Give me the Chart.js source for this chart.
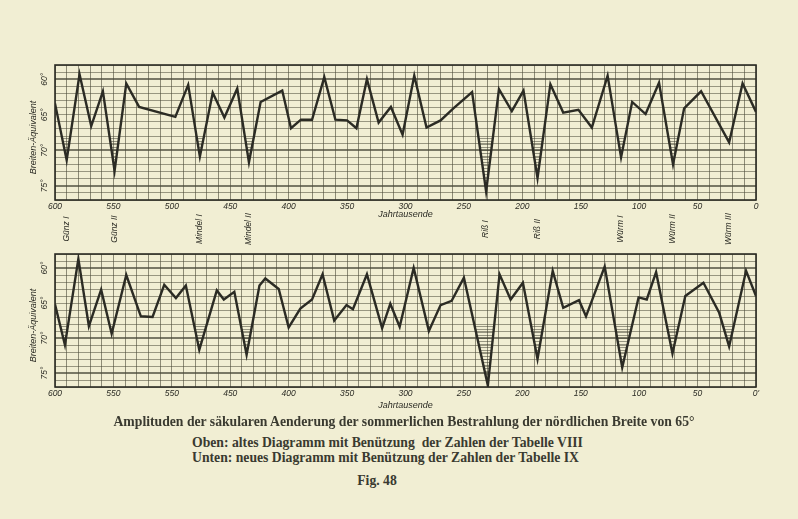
<!DOCTYPE html>
<html>
<head>
<meta charset="utf-8">
<script src="https://cdn.jsdelivr.net/npm/chart.js@4.4.1/dist/chart.umd.min.js"></script>
<style>
  body{
    margin:0;
    width:798px;
    height:519px;
    overflow:hidden;
    position:relative;
    background:#f1eed3;
    color:#3a3a30;
    font-family:"Liberation Serif","DejaVu Serif",serif;
  }
  canvas{ position:absolute; left:0; }
  #topChart{ top:0; }
  #bottomChart{ top:245px; }
  .line{ position:absolute; white-space:nowrap; font-size:13.7px; font-weight:bold; line-height:16px; }
  #cap1{ top:414px; left:0; width:808px; text-align:center; }
  #cap2{ top:435px; left:192px; }
  #cap3{ top:450px; left:192px; }
  #cap4{ top:473px; left:0; width:754px; text-align:center; }
</style>
</head>
<body>
<canvas id="topChart" width="798" height="250"></canvas>
<canvas id="bottomChart" width="798" height="175"></canvas>

<div class="line" id="cap1">Amplituden der säkularen Aenderung der sommerlichen Bestrahlung der nördlichen Breite von 65°</div>
<div class="line" id="cap2">Oben: altes Diagramm mit Benützung&nbsp; der Zahlen der Tabelle VIII</div>
<div class="line" id="cap3">Unten: neues Diagramm mit Benützung der Zahlen der Tabelle IX</div>
<div class="line" id="cap4">Fig. 48</div>

<script>
// Jahrtausende vor heute, Breiten-Äquivalent in Grad
const topYears = [600,590,579,569,559,549,539,528,497,486,476,465,455,444,434,424,405.5,398,389.5,380,369.5,360,350,342,333,323,312.5,302.5,292.5,282,270,259,243,231,220,209,199,187,176,165,152,140.5,127,115.5,106,94.5,83,71,61.5,47,23,11.5,0];
const topValues = [63.4,71.4,59.3,66.6,61.7,72.9,60.6,63.9,65.3,60.8,70.9,61.9,65.4,61.3,71.7,63.2,61.6,66.9,65.7,65.7,59.7,65.7,65.8,66.9,60.0,66.1,63.9,67.8,59.5,66.8,65.8,64.1,61.8,75.8,61.4,64.5,61.6,73.9,60.7,64.7,64.3,66.8,59.5,71.0,63.2,64.9,60.5,72.0,64.1,61.7,68.9,60.6,64.6];

const bottomYears = [600,591.5,580,571,560.5,551.5,539,526.5,516.5,506.5,496.5,488,476.5,461.5,455.5,446.5,436,425,420,408.5,400,390,380,371,361,350.5,345,333,320,313,305,293,280,270,260.5,250,229.5,219.5,210,199.5,187,174,165,151.5,145.5,129.5,114.5,100.5,93.5,85.5,71.5,60.5,45,31.5,23,8.5,0];
const bottomValues = [65.2,71.0,58.7,68.3,63.1,69.4,61.0,66.9,67.0,62.4,64.3,62.5,71.7,63.2,64.5,63.4,72.4,62.5,61.5,63.0,68.5,65.8,64.5,60.9,67.5,65.3,65.9,60.9,68.6,65.1,68.4,60.0,69.0,65.3,64.7,61.4,76.8,60.9,64.5,62.1,73.0,60.4,65.7,64.6,66.9,59.8,74.2,64.2,64.5,60.6,72.2,64.0,62.1,66.4,71.2,60.4,64.0];

const xTickValues = [600,550,500,450,400,350,300,250,200,150,100,50,0];
const topTickLabels = ["600","550","500","450","400","350","300","250","200","150","100","50","0"];
const bottomTickLabels = ["600","550","550","450","400","350","300","250","200","150","100","50","0'"];

const yLabelValues = [60,65,70,75];
const thickLines = [60,70,75];
const hatchLevel = 68;

const stageNames = ["Günz I","Günz II","Mindel I","Mindel II","Riß I","Riß II","Würm I","Würm II","Würm III"];
const stageYears = [590,549,476,434,231,187,115.5,71,23];

const ink = "#2b2b24";
const gridInk = "rgba(75,75,58,0.72)";
const smallFont = 'italic 8.5px "Liberation Sans Narrow","Liberation Sans",sans-serif';

function makeHatch(){
  const c = document.createElement("canvas");
  c.width = 4;
  c.height = 3;
  const g = c.getContext("2d");
  g.fillStyle = "rgba(60,60,48,0.5)";
  g.fillRect(0,0,4,1);
  return g.createPattern(c,"repeat");
}

function rotatedText(ctx, text, x, y){
  ctx.save();
  ctx.translate(x,y);
  ctx.rotate(-Math.PI/2);
  ctx.textAlign = "center";
  ctx.textBaseline = "middle";
  ctx.fillText(text,0,0);
  ctx.restore();
}

const paperDecor = {
  id:"paperDecor",
  afterDraw(chart, args, opts){
    const {ctx, chartArea:a, scales} = chart;
    ctx.save();
    ctx.strokeStyle = ink;
    ctx.lineWidth = 1.6;
    ctx.strokeRect(a.left, a.top, a.right - a.left, a.bottom - a.top);

    ctx.fillStyle = ink;
    ctx.font = smallFont;
    yLabelValues.forEach(v => {
      rotatedText(ctx, v + "°", a.left - 10, scales.y.getPixelForValue(v));
    });

    ctx.font = 'italic 9px "Liberation Sans Narrow","Liberation Sans",sans-serif';
    rotatedText(ctx, "Breiten-Äquivalent", a.left - 22, (a.top + a.bottom) / 2 + 5);

    ctx.textAlign = "center";
    ctx.textBaseline = "middle";
    ctx.fillText("Jahrtausende", (a.left + a.right) / 2, a.bottom + opts.titleOffset);

    if(opts.stages){
      ctx.font = smallFont;
      stageNames.forEach((name,i) => {
        rotatedText(ctx, name, scales.x.getPixelForValue(stageYears[i]), opts.stageY);
      });
    }
    ctx.restore();
  }
};

function makeChart(canvasId, years, values, tickLabels, padTop, padBottom, extra){
  const points = years.map((year,i) => ({ x:year, y:values[i] }));

  return new Chart(document.getElementById(canvasId),{
    type:"line",
    data:{
      datasets:[{
        data:points,
        borderColor:ink,
        borderWidth:2.4,
        pointRadius:0,
        tension:0,
        fill:{ target:{ value:hatchLevel }, above:"rgba(0,0,0,0)", below:makeHatch() }
      }]
    },
    options:{
      responsive:false,
      animation:false,
      layout:{ padding:{ top:padTop, bottom:padBottom, left:0, right:42 } },
      plugins:{
        legend:{ display:false },
        tooltip:{ enabled:false },
        paperDecor:extra
      },
      scales:{
        x:{
          type:"linear",
          min:0,
          max:600,
          reverse:true,
          afterFit:scale => { scale.height = 20; },
          grid:{ color:gridInk, lineWidth:0.85, drawTicks:false },
          border:{ display:false },
          ticks:{
            stepSize:10,
            autoSkip:false,
            maxRotation:0,
            padding:2,
            color:ink,
            font:{ family:"Liberation Sans Narrow, Liberation Sans", size:8.5, style:"italic" },
            callback:value => {
              const i = xTickValues.indexOf(value);
              return i >= 0 ? tickLabels[i] : "";
            }
          }
        },
        y:{
          type:"linear",
          min:58,
          max:77,
          reverse:true,
          afterFit:scale => { scale.width = 55; },
          grid:{
            color:gridInk,
            drawTicks:false,
            lineWidth:ctx => thickLines.includes(ctx.tick.value) ? 1.9 : 0.75
          },
          border:{ display:false },
          ticks:{ stepSize:1, display:false }
        }
      }
    },
    plugins:[paperDecor]
  });
}

makeChart("topChart", topYears, topValues, topTickLabels, 65, 30, { titleOffset:14, stages:true, stageY:229 });
makeChart("bottomChart", bottomYears, bottomValues, bottomTickLabels, 9, 13, { titleOffset:18, stages:false });
</script>
</body>
</html>
